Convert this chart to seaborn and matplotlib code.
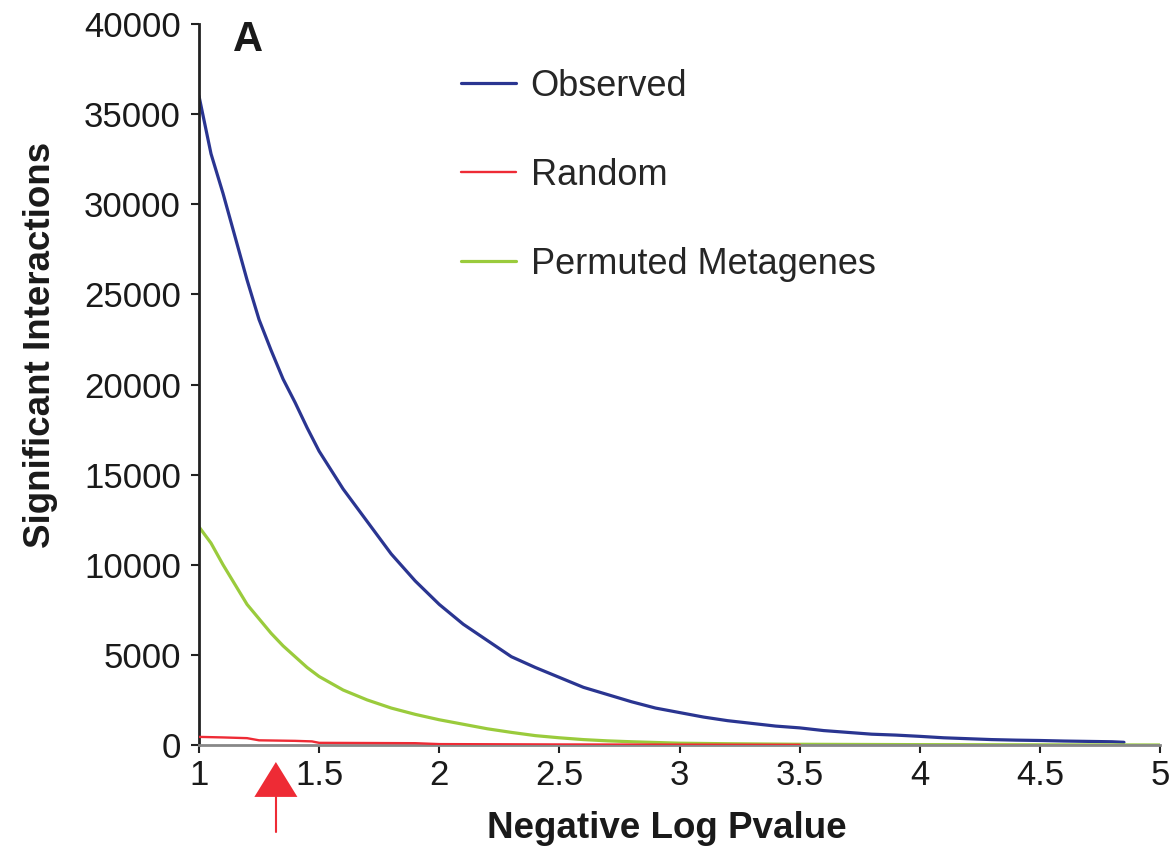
import numpy as np
import pandas as pd
import matplotlib
matplotlib.use("Agg")
import matplotlib.pyplot as plt
import seaborn as sns
from matplotlib.patches import Polygon
from matplotlib.lines import Line2D
from matplotlib.transforms import blended_transform_factory

# ---------------- data ----------------
obs_x = [1.0, 1.05, 1.1, 1.15, 1.2, 1.25, 1.3, 1.35, 1.4, 1.45, 1.5, 1.6, 1.7, 1.8, 1.9,
         2.0, 2.1, 2.2, 2.3, 2.4, 2.5, 2.6, 2.7, 2.8, 2.9, 3.0, 3.1, 3.2, 3.3, 3.4, 3.5,
         3.6, 3.7, 3.8, 3.9, 4.0, 4.1, 4.2, 4.3, 4.4, 4.5, 4.6, 4.7, 4.8, 4.85]
obs_y = [36000, 32800, 30600, 28200, 25800, 23600, 21900, 20300, 19000, 17600, 16300,
         14200, 12400, 10600, 9100, 7800, 6700, 5800, 4900, 4300, 3750, 3200, 2800,
         2400, 2050, 1800, 1550, 1350, 1200, 1050, 950, 800, 700, 600, 550, 480, 400,
         350, 300, 270, 250, 220, 200, 180, 150]

rnd_x = [1.0, 1.1, 1.2, 1.25, 1.4, 1.47, 1.5, 1.9, 2.0, 2.5, 3.0, 3.5]
rnd_y = [450, 420, 380, 260, 230, 200, 120, 100, 50, 30, 20, 10]

perm_x = [1.0, 1.05, 1.1, 1.15, 1.2, 1.25, 1.3, 1.35, 1.4, 1.45, 1.5, 1.6, 1.7, 1.8, 1.9,
          2.0, 2.1, 2.2, 2.3, 2.4, 2.5, 2.6, 2.7, 2.8, 2.9, 3.0, 3.2, 3.5, 4.0, 4.5, 5.0]
perm_y = [12100, 11200, 10000, 8900, 7800, 7000, 6200, 5500, 4900, 4300, 3800, 3050,
          2500, 2050, 1700, 1400, 1150, 900, 700, 520, 400, 300, 230, 180, 140, 100,
          70, 40, 20, 10, 0]

series_names = ["Observed", "Random", "Permuted Metagenes"]
series_colors = ["#2a3591", "#ee2b35", "#9acb3c"]

x_ticks = [1, 1.5, 2, 2.5, 3, 3.5, 4, 4.5, 5]
x_tick_labels = ["1", "1.5", "2", "2.5", "3", "3.5", "4", "4.5", "5"]
y_ticks = [0, 5000, 10000, 15000, 20000, 25000, 30000, 35000, 40000]

x_label = "Negative Log Pvalue"
y_label = "Significant Interactions"
panel_label = "A"
ARROW_X = 1.32

# ---------------- build long table ----------------
df = pd.concat([
    pd.DataFrame({"x": obs_x, "y": obs_y, "series": series_names[0]}),
    pd.DataFrame({"x": rnd_x, "y": rnd_y, "series": series_names[1]}),
    pd.DataFrame({"x": perm_x, "y": perm_y, "series": series_names[2]}),
], ignore_index=True)

# ---------------- style ----------------
sns.set_style("ticks")
plt.rcParams["font.family"] = ["Liberation Sans", "DejaVu Sans"]

fig = plt.figure(figsize=(11.75, 8.51), dpi=100)
ax = fig.add_axes([199 / 1175, 1 - 745 / 851, (1160 - 199) / 1175, (745 - 24) / 851])

palette = dict(zip(series_names, series_colors))
sns.lineplot(data=df, x="x", y="y", hue="series", hue_order=series_names,
             palette=palette, estimator=None, sort=False, ax=ax, linewidth=2.3,
             legend=False)
for line, name in zip(ax.lines, series_names):
    if name == "Random":
        line.set_linewidth(1.7)
        line.set_zorder(3)

ax.set_xlim(1, 5)
ax.set_ylim(0, 40000)
ax.set_xticks(x_ticks)
ax.set_xticklabels(x_tick_labels)
ax.set_yticks(y_ticks)
ax.tick_params(axis="both", labelsize=25, length=6, width=1.5, color="#222222",
               labelcolor="#1a1a1a", direction="out")
ax.tick_params(axis="y", pad=7)
ax.tick_params(axis="x", pad=4)

for s in ["top", "right"]:
    ax.spines[s].set_visible(False)
ax.spines["left"].set_color("#222222")
ax.spines["left"].set_linewidth(2)
ax.spines["bottom"].set_color("#888888")
ax.spines["bottom"].set_linewidth(2)

ax.set_xlabel(x_label, fontsize=26.5, fontweight="bold", color="#1a1a1a")
ax.set_ylabel(y_label, fontsize=26.5, fontweight="bold", color="#1a1a1a")
ax.xaxis.set_label_coords(0.487, -0.092)
ax.yaxis.set_label_coords(-0.147, 0.555)

ax.text(0.051, 0.978, panel_label, transform=ax.transAxes, fontsize=30,
        fontweight="bold", ha="center", va="center", color="#1a1a1a")

handles = [Line2D([], [], color=c, linewidth=(1.7 if n == "Random" else 2.3))
           for n, c in zip(series_names, series_colors)]
ax.legend(handles, series_names, loc="upper left", bbox_to_anchor=(0.258, 0.958),
          frameon=False, fontsize=26, handlelength=1.5, handletextpad=0.42,
          labelspacing=1.5, borderaxespad=0)

# red arrow below the x axis
trans = blended_transform_factory(ax.transData, ax.transAxes)
dx = 21.5 / 240.0
tri = Polygon([[ARROW_X, -0.0236], [ARROW_X - dx, -0.072], [ARROW_X + dx, -0.072]],
              closed=True, transform=trans, facecolor="#ee2b35", edgecolor="none",
              clip_on=False)
ax.add_patch(tri)
ax.plot([ARROW_X, ARROW_X], [-0.072, -0.121], transform=trans, color="#ee2b35",
        linewidth=1.5, clip_on=False)

fig.savefig("out.png", dpi=100)
